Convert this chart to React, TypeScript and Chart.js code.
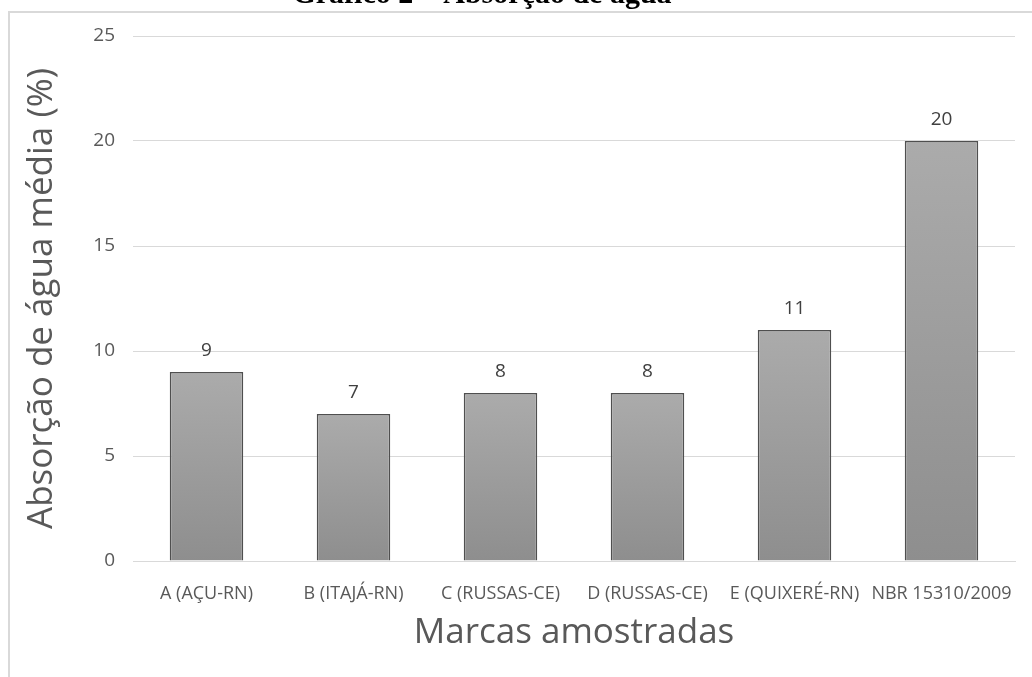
import React, { useEffect, useRef } from "react";
import { Chart, registerables } from "chart.js";

Chart.register(...registerables);

const chartTitle = "Gráfico 2 – Absorção de água";
const categories = [
  "A (AÇU-RN)",
  "B (ITAJÁ-RN)",
  "C (RUSSAS-CE)",
  "D (RUSSAS-CE)",
  "E (QUIXERÉ-RN)",
  "NBR 15310/2009",
];
const absorptionValues = [9, 7, 8, 8, 11, 20];
const yAxisTitle = "Absorção de água média (%)";
const xAxisTitle = "Marcas amostradas";
const yMin = 0;
const yMax = 25;
const yStep = 5;

const FONT = "'Open Sans', 'Noto Sans', sans-serif";

const framePlugin = {
  id: "frameAndTitle",
  beforeDraw(chart: any) {
    const ctx = chart.ctx;
    ctx.save();
    ctx.fillStyle = "#ffffff";
    ctx.fillRect(0, 0, chart.width, chart.height);
    ctx.strokeStyle = "#d9d9d9";
    ctx.lineWidth = 2;
    ctx.beginPath();
    ctx.moveTo(9, chart.height + 5);
    ctx.lineTo(9, 12);
    ctx.lineTo(chart.width + 5, 12);
    ctx.stroke();
    ctx.fillStyle = "#000000";
    ctx.font = "bold 30px 'Liberation Serif', 'DejaVu Serif', serif";
    ctx.textAlign = "center";
    ctx.textBaseline = "alphabetic";
    ctx.fillText(chartTitle, 482, 3);
    ctx.restore();
  },
};

const valueLabelPlugin = {
  id: "valueLabels",
  afterDatasetsDraw(chart: any) {
    const ctx = chart.ctx;
    const meta = chart.getDatasetMeta(0);
    const data = chart.data.datasets[0].data;
    ctx.save();
    ctx.fillStyle = "#404040";
    ctx.font = `19px ${FONT}`;
    ctx.textAlign = "center";
    ctx.textBaseline = "middle";
    meta.data.forEach((bar: any, i: number) => {
      ctx.fillText(String(data[i]), bar.x, bar.y - 21);
    });
    ctx.restore();
  },
};

export default function App() {
  const canvasRef = useRef<HTMLCanvasElement | null>(null);

  useEffect(() => {
    const canvas = canvasRef.current;
    if (!canvas) return;
    const chart = new Chart(canvas, {
      type: "bar",
      data: {
        labels: categories,
        datasets: [
          {
            data: absorptionValues,
            backgroundColor: (c: any) => {
              const ch = c.chart;
              const ys = ch.scales && ch.scales.y;
              if (!ys || c.raw === undefined) return "#9c9c9c";
              const top = ys.getPixelForValue(c.raw);
              const bottom = ys.getPixelForValue(0);
              if (!isFinite(top) || !isFinite(bottom) || top === bottom) return "#9c9c9c";
              const g = ch.ctx.createLinearGradient(0, top, 0, bottom);
              g.addColorStop(0, "#ababab");
              g.addColorStop(1, "#8e8e8e");
              return g;
            },
            borderColor: "#4f4f4f",
            borderWidth: 1.5,
            categoryPercentage: 1,
            barPercentage: 0.5,
          },
        ],
      },
      options: {
        responsive: false,
        animation: false,
        layout: { padding: { top: 36, right: 17, bottom: 0, left: 0 } },
        plugins: {
          legend: { display: false },
          title: { display: false },
          tooltip: { enabled: false },
        },
        scales: {
          x: {
            afterFit: (s: any) => {
              s.height = 116;
            },
            grid: { display: false },
            border: { display: true, color: "#d9d9d9" },
            ticks: {
              color: "#595959",
              font: { family: FONT, size: 18 },
              padding: 14,
              maxRotation: 0,
              autoSkip: false,
            },
            title: {
              display: true,
              text: xAxisTitle,
              color: "#595959",
              font: { family: FONT, size: 35 },
              padding: { top: 0, bottom: 23 },
            },
          },
          y: {
            min: yMin,
            max: yMax,
            afterFit: (s: any) => {
              s.width = 133;
            },
            grid: { color: "#d9d9d9", drawTicks: false },
            border: { display: false },
            ticks: {
              stepSize: yStep,
              color: "#595959",
              font: { family: FONT, size: 19 },
              padding: 18,
            },
            title: {
              display: true,
              text: yAxisTitle,
              color: "#595959",
              font: { family: FONT, size: 35 },
              padding: { top: 21, bottom: 0 },
            },
          },
        },
      },
      plugins: [framePlugin, valueLabelPlugin],
    });
    return () => chart.destroy();
  }, []);

  return (
    <div style={{ position: "fixed", left: 0, top: 0, width: 1032, height: 677 }}>
      <canvas ref={canvasRef} width={1032} height={677} style={{ display: "block" }} />
    </div>
  );
}
